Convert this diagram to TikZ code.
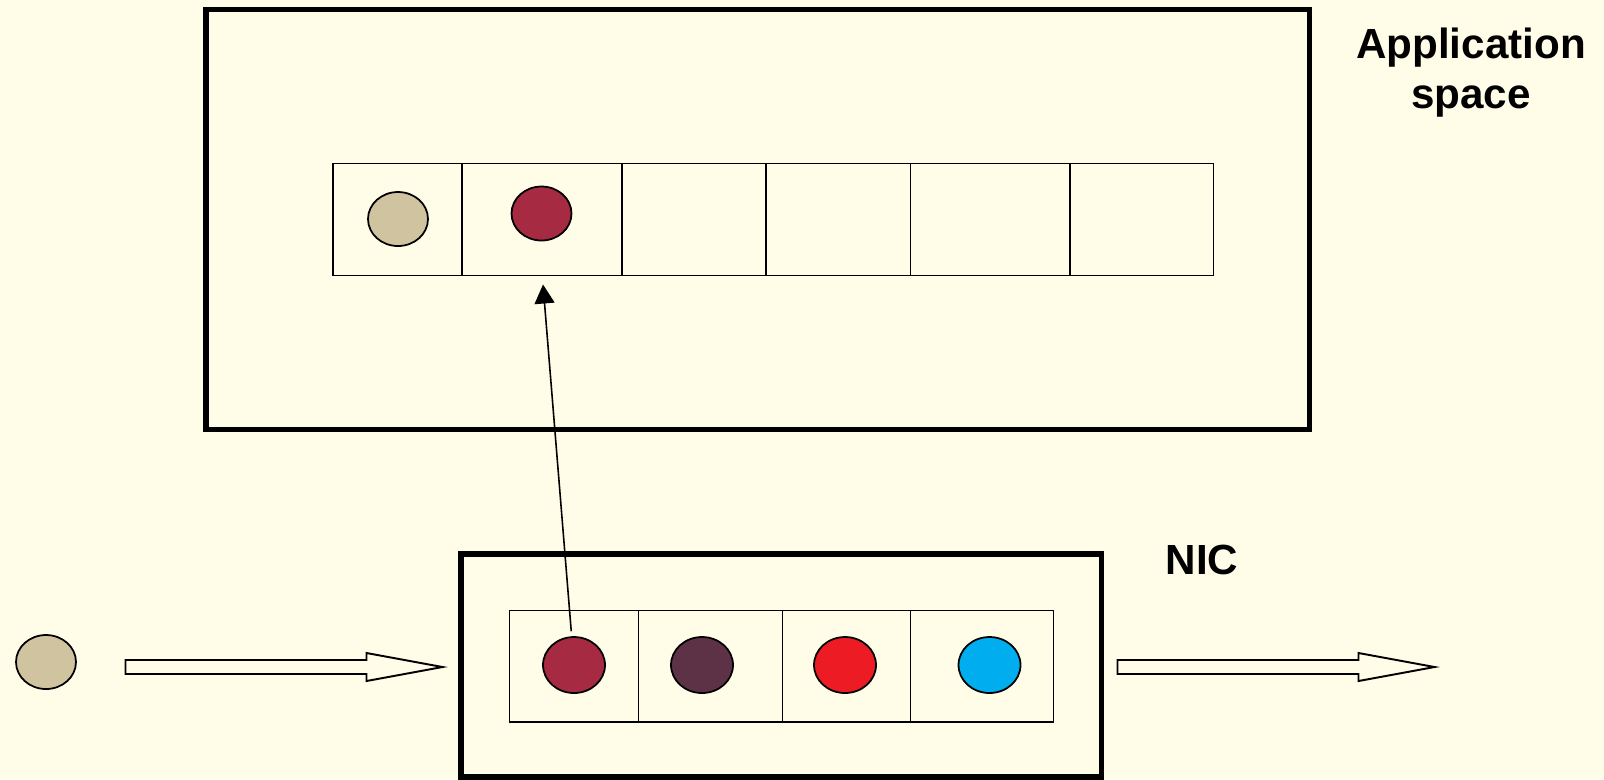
\documentclass[tikz,border=0pt]{standalone}
\usepackage{fontspec}
\setmainfont{Liberation Sans}
\usepackage{tikz}
\usetikzlibrary{arrows.meta,shapes.geometric}

\definecolor{paper}{RGB}{255,252,232}
\definecolor{sand}{RGB}{207,195,160}
\definecolor{wine}{RGB}{165,42,66}
\definecolor{plum}{RGB}{94,50,70}
\definecolor{brightred}{RGB}{237,28,36}
\definecolor{sky}{RGB}{0,174,239}

\tikzset{
	frame/.style={line width=3pt},
	cell/.style={line width=1pt},
	dot/.style={ellipse, draw, line width=1pt, inner sep=0pt, minimum width=1.2cm, minimum height=1.08cm},
	bigdot/.style={dot, minimum width=1.24cm, minimum height=1.12cm},
	hollow/.style={line width=1.1pt, fill=paper, line join=miter},
	label/.style={font=\fontsize{24}{28.5}\selectfont\bfseries, align=center}
}

\begin{document}
\begin{tikzpicture}[x=0.02cm, y=-0.02cm]
	\fill[paper] (0,0) rectangle (1604,779);
	\useasboundingbox (0,0) rectangle (1604,779);

	% application space with its buffer
	\draw[frame] (206,9.5) rectangle (1309.5,429.5);
	\foreach \a/\b in {333/462, 462/622, 622/766, 766/910.5, 910.5/1070, 1070/1213.5}
		\draw[cell] (\a,163.5) rectangle (\b,275.5);
	\node[dot, fill=sand] (a1) at (398,219) {};
	\node[dot, fill=wine] (a2) at (541.5,213.5) {};
	\coordinate (slot) at (543,284.5);
	\node[label] (appspace) at (1471,72.5) {Application\\space};

	% NIC with its queue
	\draw[frame] (461,554) rectangle (1101.5,777);
	\foreach \a/\b in {509.5/638.5, 638.5/782.5, 782.5/910.5, 910.5/1053.5}
		\draw[cell] (\a,610.5) rectangle (\b,722);
	\node[bigdot, fill=wine] (n1) at (574,665) {};
	\node[bigdot, fill=plum] (n2) at (702,665) {};
	\node[bigdot, fill=brightred] (n3) at (845,665) {};
	\node[bigdot, fill=sky] (n4) at (989.5,665) {};
	\node[label, anchor=base] (nic) at (1202,574) {NIC};

	% incoming packet
	\node[dot, fill=sand] (pkt) at (46,662) {};

	% hollow arrows in and out
	\foreach \x in {125.5, 1117.5}
		\draw[hollow] (\x,660) -- ({\x+241},660) -- ({\x+241},653) -- ({\x+317},667)
			-- ({\x+241},681) -- ({\x+241},674) -- (\x,674) -- cycle;

	\draw[line width=0.9pt, -{Triangle[width=0.4cm,length=0.38cm]}, shorten <=0.1cm] (n1) -- (slot);
\end{tikzpicture}
\end{document}
